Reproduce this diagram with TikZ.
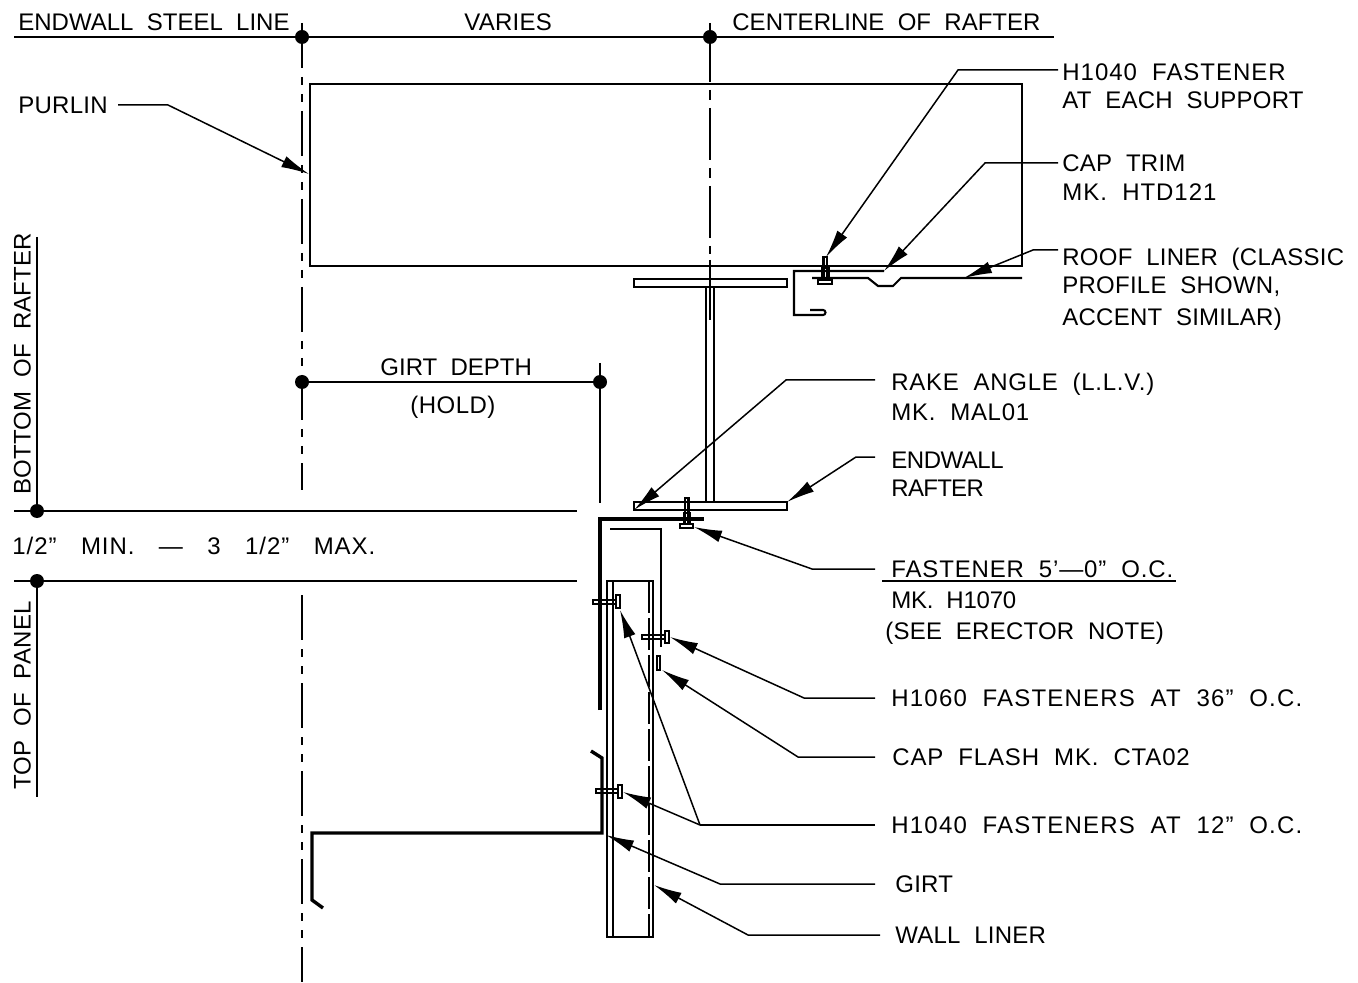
\documentclass[tikz,border=0pt]{standalone}
\usepackage{fontspec}
\usepackage{tikz}
\usetikzlibrary{arrows.meta}
\setmainfont[LetterSpace=1,WordSpace=2]{Liberation Sans}
\newfontfamily\widefont[LetterSpace=4,WordSpace=3.2]{Liberation Sans}

\tikzset{
	thinline/.style={line width=1.05pt},
	thickline/.style={line width=1.7pt},
	leader/.style={line width=0.75pt,-{Latex[length=14pt,width=6pt]}},
	dimline/.style={line width=0.8pt},
	centerline/.style={line width=0.8pt,dash pattern=on 22.5pt off 4.5pt on 4pt off 4.5pt on 4pt off 4.5pt},
	rafterline/.style={line width=0.8pt,dash pattern=on 5pt off 4pt on 26pt off 4pt},
	dimdot/.style={circle,fill=black,inner sep=0pt,minimum size=7pt},
	note/.style={anchor=west,inner xsep=2pt,inner ysep=0pt,text height=8.6pt,text depth=0pt,font=\fontsize{12}{14}\selectfont},
	spread/.style={font=\fontsize{12}{14}\selectfont\addfontfeature{LetterSpace=#1}},
	sidenote/.style={note,rotate=90}
}

\begin{document}
\begin{tikzpicture}[x=0.5pt,y=-0.5pt]
	\useasboundingbox (0,0) rectangle (1358,983);

	% dimension dots
	\node[dimdot] (steeldot) at (302,37) {};
	\node[dimdot] (rafterdot) at (710,37) {};
	\node[dimdot] (girtdota) at (302,382) {};
	\node[dimdot] (girtdotb) at (600,382) {};
	\node[dimdot] (bottomdot) at (37,511) {};
	\node[dimdot] (topdot) at (37,581) {};

	% dimension lines
	\coordinate (topleft) at (14,37);
	\coordinate (topright) at (1054,37);
	\coordinate (girttop) at (600,363);
	\coordinate (girtend) at (600,503);
	\coordinate (bottomleft) at (14,511);
	\coordinate (bottomright) at (577,511);
	\coordinate (topofleft) at (14,581);
	\coordinate (topofright) at (577,581);
	\coordinate (bottomup) at (37,237);
	\coordinate (topdown) at (37,797);
	\draw[dimline] (topleft) -- (steeldot) -- (rafterdot) -- (topright);
	\draw[dimline] (girtdota) -- (girtdotb);
	\draw[dimline] (girttop) -- (girtdotb) -- (girtend);
	\draw[dimline] (bottomleft) -- (bottomdot) -- (bottomright);
	\draw[dimline] (topofleft) -- (topdot) -- (topofright);
	\draw[dimline] (bottomup) -- (bottomdot);
	\draw[dimline] (topdot) -- (topdown);

	% center lines
	\draw[centerline] (302,23) -- (302,490);
	\draw[centerline] (302,595) -- (302,982);
	\draw[dimline] (710,23) -- (710,82);
	\draw[rafterline] (710,90) -- (710,254);

	% purlin
	\draw[thinline] (310,84) rectangle (1022,266);

	% rafter
	\draw[thinline] (634,279) rectangle (787,287);
	\draw[thinline] (634,502) rectangle (787,510);
	\draw[thinline] (706,287) -- (706,502);
	\draw[thinline] (714,287) -- (714,502);
	\draw[thinline] (710,260) -- (710,320);

	% cap trim and roof liner
	\draw[thinline] (884,271) -- (794,271) -- (794,315) -- (823,315)
		arc[start angle=90,end angle=-90,radius=2.5] -- (810,310);
	\draw[thinline] (812,278) -- (868,278) -- (878,286) -- (893,286) -- (901,278) -- (1022,278);

	% panel, cap flash and wall liner
	\draw[thickline] (600,710) -- (600,519) -- (704,519);
	\draw[thinline] (610,529) -- (661,529) -- (661,647);
	\draw[thinline] (657,656) rectangle (660,670);
	\draw[thinline] (607,581) rectangle (653,937);
	\draw[thinline] (613,581) -- (613,937);
	\draw[thinline,dash pattern=on 16pt off 2.5pt] (649,581) -- (649,937);

	% girt
	\draw[thickline] (591,751) -- (602,758) -- (602,833) -- (312,833) -- (312,900) -- (323,908);

	% fasteners
	\draw[thinline] (823.5,257) rectangle (827,280);
	\draw[thinline] (822.5,268) rectangle (828.5,280);
	\draw[thinline] (818,280) rectangle (832,284);
	\draw[thinline] (685,498) rectangle (688.5,524);
	\draw[thinline] (684,513) rectangle (689.5,524);
	\draw[thinline] (680,524) rectangle (693,528);
	\draw[thinline] (593,600) rectangle (616,604);
	\draw[thinline] (616,595) rectangle (620,608);
	\draw[thinline] (642,635) rectangle (665,639);
	\draw[thinline] (665,631) rectangle (669,643);
	\draw[thinline] (596,789) rectangle (618,793);
	\draw[thinline] (618,785) rectangle (622,798);

	% dimension texts
	\node[note,spread=0] (steeltext) at (14,22) {ENDWALL STEEL LINE};
	\node[note] (variestext) at (460,22) {VARIES};
	\node[note,spread=0] (raftertext) at (728,22) {CENTERLINE OF RAFTER};
	\node[note,spread=0] (girttext) at (376,367) {GIRT DEPTH};
	\node[note,spread=2] (holdtext) at (406,405) {(HOLD)};
	\node[note,font=\fontsize{12}{14}\selectfont\widefont] (gaptext) at (8,546) {1/2” MIN. — 3 1/2” MAX.};
	\node[sidenote] (bottomtext) at (22,499) {BOTTOM OF RAFTER};
	\node[sidenote] (toptext) at (22,794) {TOP OF PANEL};

	% notes
	\node[note] (purlintext) at (14,105) {PURLIN};
	\node[note,spread=4] (hfasta) at (1058,72) {H1040 FASTENER};
	\node[note] (hfastb) at (1058,100) {AT EACH SUPPORT};
	\node[note] (capa) at (1058,163) {CAP TRIM};
	\node[note,spread=4] (capb) at (1058,192) {MK. HTD121};
	\node[note] (roofa) at (1058,257) {ROOF LINER (CLASSIC};
	\node[note] (roofb) at (1058,285) {PROFILE SHOWN,};
	\node[note] (roofc) at (1058,317) {ACCENT SIMILAR)};
	\node[note,spread=3] (rakea) at (887,382) {RAKE ANGLE (L.L.V.)};
	\node[note,spread=3] (rakeb) at (887,412) {MK. MAL01};
	\node[note,spread=-2] (walla) at (887,460) {ENDWALL};
	\node[note,spread=-3] (wallb) at (887,488) {RAFTER};
	\node[note,spread=3.5] (screwa) at (887,569) {FASTENER 5’—0” O.C.};
	\node[note,spread=-1] (screwb) at (887,600) {MK. H1070};
	\node[note] (screwc) at (881,631) {(SEE ERECTOR NOTE)};
	\node[note,spread=5] (sixty) at (887,698) {H1060 FASTENERS AT 36” O.C.};
	\node[note,spread=3.5] (flash) at (888,757) {CAP FLASH MK. CTA02};
	\node[note,spread=5] (forty) at (887,825) {H1040 FASTENERS AT 12” O.C.};
	\node[note] (girttag) at (891,884) {GIRT};
	\node[note] (linertag) at (891,935) {WALL LINER};
	\coordinate (underleft) at (882,581);
	\coordinate (underright) at (1176,581);
	\draw[dimline] (underleft) -- (underright);

	% leader tips
	\coordinate (purlintip) at (309,174);
	\coordinate (hfasttip) at (826,257);
	\coordinate (captip) at (884,271);
	\coordinate (rooftip) at (964,278);
	\coordinate (raketip) at (634,510);
	\coordinate (walltip) at (787,502);
	\coordinate (screwtip) at (694,527);
	\coordinate (sixtytip) at (670,637);
	\coordinate (flashtip) at (662,670);
	\coordinate (fortyknee) at (700,825);
	\coordinate (fortytipa) at (623,792);
	\coordinate (fortytipb) at (620,610);
	\coordinate (girttip) at (606,835);
	\coordinate (linertip) at (654,885);

	% leaders
	\draw[leader,shorten <=3pt] (purlintext.east) -- (168,105) -- (purlintip);
	\draw[leader] ([yshift=1pt]hfasta.west) -- (958,70) -- (hfasttip);
	\draw[leader] (capa.west) -- (985,163) -- (captip);
	\draw[leader] ([yshift=3.5pt]roofa.west) -- (1033,250) -- (rooftip);
	\draw[leader,shorten <=6pt] ([yshift=1pt]rakea.west) -- (786,380) -- (raketip);
	\draw[leader,shorten <=6pt] ([yshift=1.5pt]walla.west) -- (856,457) -- (walltip);
	\draw[leader,shorten <=6pt] (screwa.west) -- (812,569) -- (screwtip);
	\draw[leader,shorten <=6pt] (sixty.west) -- (804,698) -- (sixtytip);
	\draw[leader,shorten <=6.5pt] (flash.west) -- (798,757) -- (flashtip);
	\draw[line width=0.75pt,shorten <=6pt] (forty.west) -- (fortyknee);
	\draw[leader] (fortyknee) -- (fortytipa);
	\draw[leader] (fortyknee) -- (fortytipb);
	\draw[leader,shorten <=8pt] (girttag.west) -- (720,884) -- (girttip);
	\draw[leader,shorten <=5.5pt] (linertag.west) -- (748,935) -- (linertip);
\end{tikzpicture}
\end{document}
